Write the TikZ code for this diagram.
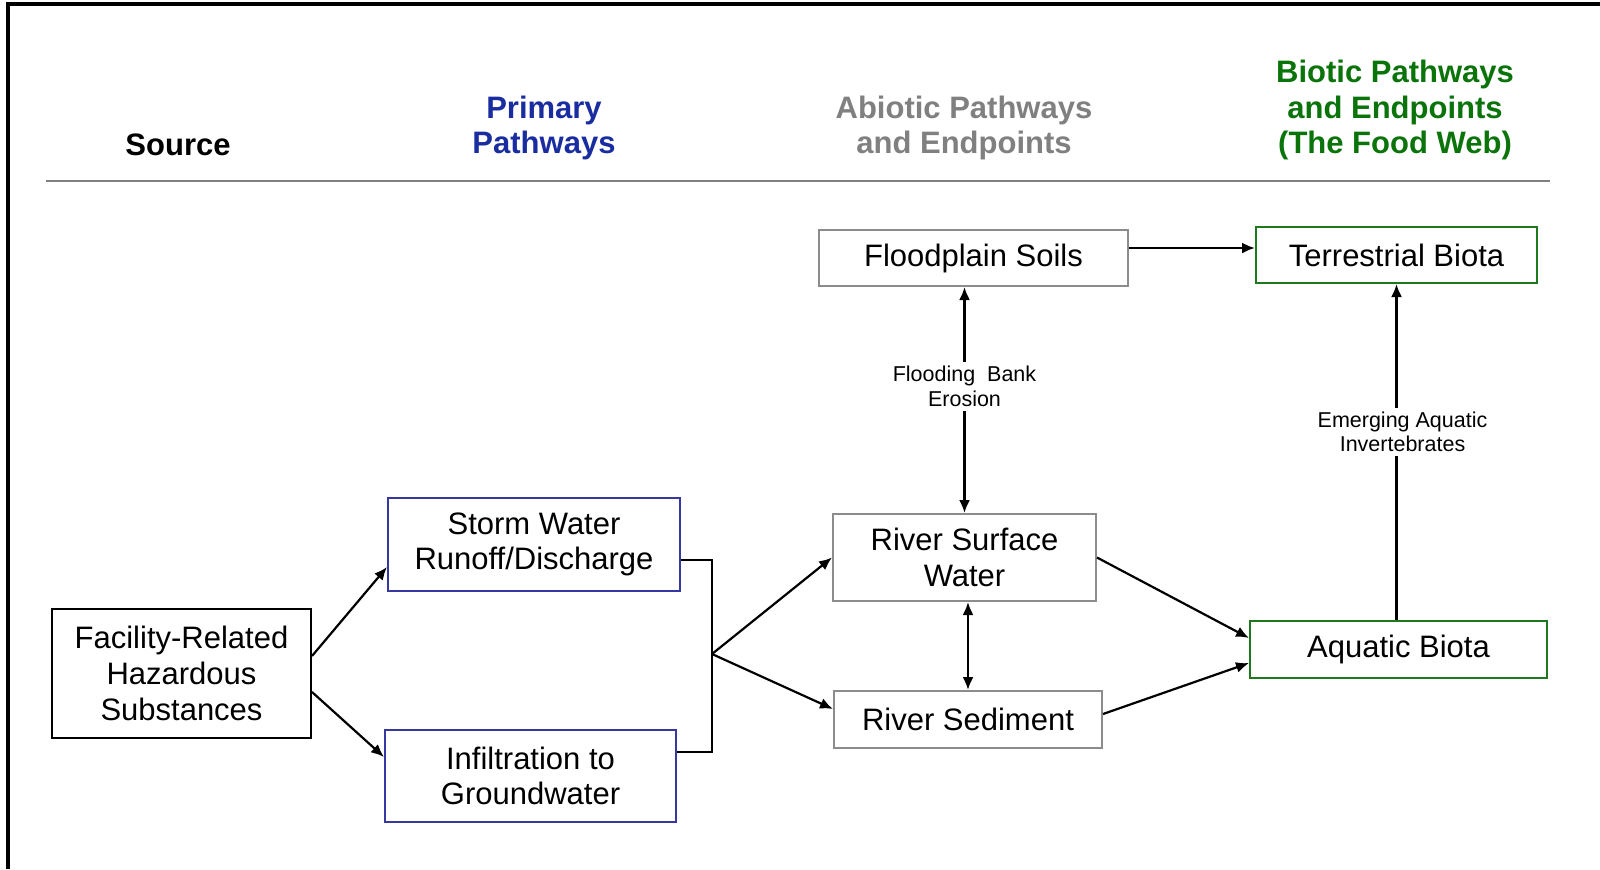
\documentclass[tikz,border=0pt]{standalone}
\usepackage{fontspec}
\setmainfont{Liberation Sans}
\definecolor{pathblue}{RGB}{25, 45, 160}
\definecolor{boxblue}{RGB}{55, 55, 160}
\definecolor{abiogray}{RGB}{128, 128, 128}
\definecolor{boxgray}{RGB}{140, 140, 140}
\definecolor{biogreen}{RGB}{10, 115, 10}
\definecolor{boxgreen}{RGB}{30, 120, 30}
\usetikzlibrary{arrows.meta, positioning, calc}

\begin{document}
\begin{tikzpicture}[
  x=0.5pt, y=-0.5pt,
  head/.style={align=center, font=\fontsize{15.5}{17.85}\selectfont\bfseries, inner sep=0pt},
  pbox/.style={draw, line width=1pt, align=center, inner sep=0pt, font=\fontsize{15.5}{17.85}\selectfont},
  lbl/.style={fill=white, align=center, inner sep=2pt, font=\fontsize{10.75}{12.25}\selectfont},
  link/.style={line width=1.1pt, -{Latex[length=6.5pt, width=5.5pt]}},
  twoway/.style={line width=1.1pt, {Latex[length=6.5pt, width=5.5pt]}-{Latex[length=6.5pt, width=5.5pt]}}
]
  \useasboundingbox (0,0) rectangle (1600,869);
  % frame
  \draw[line width=1.6pt] (8,869) -- (8,4) -- (1600,4);

  % column headings
  \node[head] (hsource) at (178,145) {Source};
  \node[head, text=pathblue] (hprimary) at (544,128) {Primary\\Pathways};
  \node[head, text=abiogray] (habiotic) at (964,128) {Abiotic Pathways\\and Endpoints};
  \node[head, text=biogreen] (hbiotic) at (1395,110) {Biotic Pathways\\and Endpoints\\(The Food Web)};
  \draw[line width=1pt, abiogray] (46,181) -- (1550,181);

  % boxes
  \node[pbox, minimum width=129.5pt, minimum height=64.5pt] (source) at (181.5,673.5)
    {Facility-Related\\Hazardous\\Substances};
  \node[pbox, draw=boxblue, minimum width=146pt, minimum height=46.5pt] (storm) at (534,544.5)
    {Storm Water\\Runoff/Discharge};
  \node[pbox, draw=boxblue, minimum width=145.5pt, minimum height=46pt] (infil) at (530.5,776)
    {Infiltration to\\Groundwater};
  \node[pbox, draw=boxgray, minimum width=154.5pt, minimum height=28pt] (soils) at (973.5,258)
    {Floodplain Soils};
  \node[pbox, draw=boxgray, minimum width=131.5pt, minimum height=43.5pt] (surface) at (964.5,557.5)
    {River Surface\\Water};
  \node[pbox, draw=boxgray, minimum width=134pt, minimum height=28.5pt] (sediment) at (968,719.5)
    {River Sediment};
  \node[pbox, draw=boxgreen, minimum width=140.5pt, minimum height=28pt] (terrestrial) at (1396.5,255)
    {Terrestrial Biota};
  \node[pbox, draw=boxgreen, minimum width=148.5pt, minimum height=28.5pt] (aquatic) at (1398.5,649.5)
    {Aquatic Biota};
  \coordinate (merge) at (712,654);

  % connectors
  \draw[link] ($(source.east)+(0,-17.5)$) -- ($(storm.west)+(0,22.5)$);
  \draw[link] ($(source.east)+(0,18.5)$) -- ($(infil.west)+(0,-19)$);
  \draw[line width=1.1pt] ($(storm.east)+(0,15.5)$) -| (merge) |- ($(infil.east)+(0,-24)$);
  \draw[link] (merge) -- (surface.west);
  \draw[link] (merge) -- ($(sediment.west)+(0,-10.5)$);
  \draw[twoway] (soils.south -| surface.north) -- node[lbl, pos=0.44] {Flooding\ \ Bank\\Erosion} (surface.north);
  \draw[twoway] (sediment.north |- surface.south) -- (sediment.north);
  \draw[link] ($(soils.east)+(0,-10)$) -- ($(terrestrial.west)+(0,-7)$);
  \draw[link] (surface.east) -- ($(aquatic.west)+(0,-11.5)$);
  \draw[link] ($(sediment.east)+(0,-5.5)$) -- ($(aquatic.west)+(0,13.5)$);
  \draw[link] (terrestrial.south |- aquatic.north) -- node[lbl, pos=0.56, xshift=3pt] {Emerging Aquatic\\Invertebrates} (terrestrial.south);
\end{tikzpicture}
\end{document}
